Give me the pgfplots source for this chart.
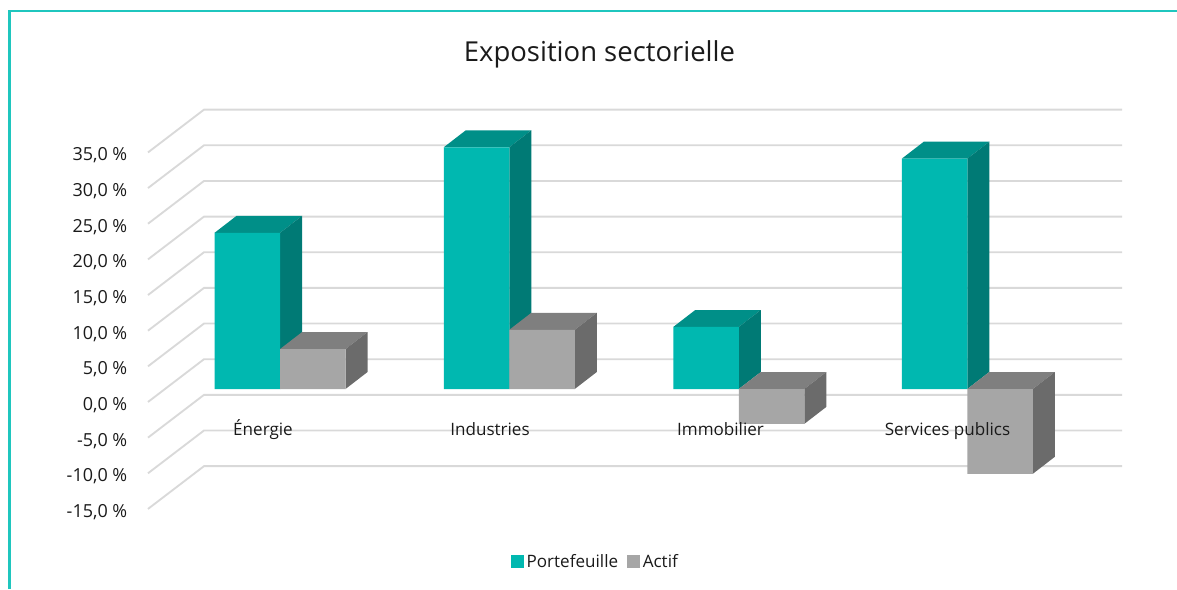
\documentclass[border=0pt]{standalone}
\usepackage{pgfplots}
\usepackage{fontspec}
\setmainfont{Open Sans}
\pgfplotsset{compat=1.18}
\definecolor{tealF}{HTML}{00B8B0}
\definecolor{tealT}{HTML}{008F88}
\definecolor{tealS}{HTML}{007A75}
\definecolor{grayF}{HTML}{A6A6A6}
\definecolor{grayT}{HTML}{7F7F7F}
\definecolor{grayS}{HTML}{6B6B6B}
\definecolor{frameC}{HTML}{1FC6BE}
\definecolor{gridC}{HTML}{D9D9D9}
\definecolor{txt}{HTML}{1A1A1A}
\begin{document}
\begin{tikzpicture}
\begin{axis}[
  scale only axis, width=882.75pt, height=441.75pt,
  xmin=0, xmax=1177, ymin=-28.05, ymax=54.56,
  axis on top,
  axis line style={draw=none},
  major tick length=0pt, tick style={draw=none},
  xtick={263,490,720.5,947.5},
  xticklabels={Énergie,Industries,Immobilier,Services publics},
  xticklabel style={anchor=center, text height=9.5pt, text depth=3pt, yshift=118pt, font=\fontsize{12.8}{14}\selectfont, text=txt},
  ytick={-15,-10,-5,0,5,10,15,20,25,30,35},
  yticklabels={{-15,0 \%},{-10,0 \%},{-5,0 \%},{0,0 \%},{5,0 \%},{10,0 \%},{15,0 \%},{20,0 \%},{25,0 \%},{30,0 \%},{35,0 \%}},
  yticklabel style={anchor=east, xshift=99pt, yshift=-12pt, font=\fontsize{13.5}{15}\selectfont, text=txt},
  title={Exposition sectorielle},
  title style={at={(0.5093,0.9117)}, anchor=center, yshift=-8pt, font=\fontsize{20.6}{24}\selectfont, text=txt},
  unbounded coords=jump,
  legend style={at={(0.5063,0.0465)}, anchor=center, draw=none, fill=none, legend columns=2,
    font=\fontsize{12.8}{15}\selectfont, text=txt, /tikz/every even column/.append style={column sep=5pt}},
  legend cell align=left,
  legend image code/.code={\fill[#1] (0pt,-4.8pt) rectangle (9.5pt,4.8pt);},
]
% frame
\addplot[forget plot, frameC, line width=1.9pt, line join=miter] coordinates {(9.5,-28.05) (9.5,53.02) (1177,53.02)};
% gridlines
\addplot[forget plot, gridC, line width=1.4pt, line join=miter] coordinates {
(148,33.18) (204,39.18) (1122,39.18) (148,nan)
(148,28.18) (204,34.18) (1122,34.18) (148,nan)
(148,23.18) (204,29.18) (1122,29.18) (148,nan)
(148,18.18) (204,24.18) (1122,24.18) (148,nan)
(148,13.18) (204,19.18) (1122,19.18) (148,nan)
(148,8.18) (204,14.18) (1122,14.18) (148,nan)
(148,3.18) (204,9.18) (1122,9.18) (148,nan)
(148,-1.82) (204,4.18) (1122,4.18) (148,nan)
(148,-6.82) (204,-0.82) (1122,-0.82) (148,nan)
(148,-11.82) (204,-5.82) (1122,-5.82) (148,nan)
(148,-16.82) (204,-10.82) (1122,-10.82)
};
% Portefeuille: top and side faces
\addplot[forget plot, draw=none, fill=tealT] coordinates {(214.5,21.9) (236.5,24.28) (302,24.28) (280,21.9)} -- cycle;
\addplot[forget plot, draw=none, fill=tealS] coordinates {(280,0) (302,2.38) (302,24.28) (280,21.9)} -- cycle;
\addplot[forget plot, draw=none, fill=tealT] coordinates {(443.75,33.9) (465.75,36.28) (531.25,36.28) (509.25,33.9)} -- cycle;
\addplot[forget plot, draw=none, fill=tealS] coordinates {(509.25,0) (531.25,2.38) (531.25,36.28) (509.25,33.9)} -- cycle;
\addplot[forget plot, draw=none, fill=tealT] coordinates {(673.25,8.7) (695.25,11.08) (760.75,11.08) (738.75,8.7)} -- cycle;
\addplot[forget plot, draw=none, fill=tealS] coordinates {(738.75,0) (760.75,2.38) (760.75,11.08) (738.75,8.7)} -- cycle;
\addplot[forget plot, draw=none, fill=tealT] coordinates {(901.75,32.3) (923.75,34.68) (989.25,34.68) (967.25,32.3)} -- cycle;
\addplot[forget plot, draw=none, fill=tealS] coordinates {(967.25,0) (989.25,2.38) (989.25,34.68) (967.25,32.3)} -- cycle;
% Portefeuille: front
\addplot[ybar, bar width=49.125pt, bar shift=0pt, draw=none, fill=tealF] coordinates {(247.25,21.9) (476.5,33.9) (706,8.7) (934.5,32.3)};
\addlegendentry{Portefeuille}
% Actif: top and side faces
\addplot[forget plot, draw=none, fill=grayT] coordinates {(280,5.6) (302,7.98) (367.5,7.98) (345.5,5.6)} -- cycle;
\addplot[forget plot, draw=none, fill=grayS] coordinates {(345.5,0) (367.5,2.38) (367.5,7.98) (345.5,5.6)} -- cycle;
\addplot[forget plot, draw=none, fill=grayT] coordinates {(509.25,8.3) (531.25,10.68) (596.75,10.68) (574.75,8.3)} -- cycle;
\addplot[forget plot, draw=none, fill=grayS] coordinates {(574.75,0) (596.75,2.38) (596.75,10.68) (574.75,8.3)} -- cycle;
\addplot[forget plot, draw=none, fill=grayT] coordinates {(738.75,0) (760.75,2.38) (826.25,2.38) (804.25,0)} -- cycle;
\addplot[forget plot, draw=none, fill=grayS] coordinates {(804.25,-4.9) (826.25,-2.52) (826.25,2.38) (804.25,0)} -- cycle;
\addplot[forget plot, draw=none, fill=grayT] coordinates {(967.25,0) (989.25,2.38) (1054.75,2.38) (1032.75,0)} -- cycle;
\addplot[forget plot, draw=none, fill=grayS] coordinates {(1032.75,-11.9) (1054.75,-9.52) (1054.75,2.38) (1032.75,0)} -- cycle;
% Actif: front
\addplot[ybar, bar width=49.125pt, bar shift=0pt, draw=none, fill=grayF] coordinates {(312.75,5.6) (542,8.3) (771.5,-4.9) (1000,-11.9)};
\addlegendentry{Actif}
\end{axis}
\end{tikzpicture}
\end{document}
